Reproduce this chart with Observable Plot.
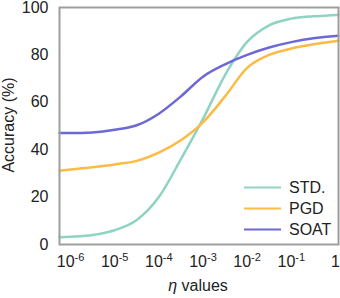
<!DOCTYPE html>
<html>
<head>
<meta charset="utf-8">
<script src="https://cdn.jsdelivr.net/npm/d3@7"></script>
<script src="https://cdn.jsdelivr.net/npm/@observablehq/plot@0.6"></script>
<style>
  html, body { margin: 0; padding: 0; background: #fff; }
  #chart { width: 340px; height: 298px; }
</style>
</head>
<body>
<div id="chart"></div>
<script>
// η grid as powers of ten
const etaExponents = [-6.25, -6, -5.5, -5, -4.5, -4, -3.5, -3, -2.5, -2, -1.5, -1, -0.5, 0, 0.07];
const stdAcc  = [3.1, 3.3, 4.0, 6.0, 10.3, 20.0, 36.0, 53.0, 71.5, 85.5, 92.5, 95.3, 96.3, 96.8, 96.9];
const pgdAcc  = [31.1, 31.6, 32.6, 33.8, 35.3, 38.8, 44.0, 51.5, 62.5, 74.5, 80.0, 82.7, 84.5, 85.8, 86.0];
const soatAcc = [47.0, 47.0, 47.3, 48.4, 50.3, 55.2, 62.5, 70.8, 76.0, 80.0, 83.1, 85.4, 87.0, 88.0, 88.1];

const seriesNames = ["STD.", "PGD", "SOAT"];
const seriesColors = ["#8fd4c3", "#fbbb45", "#6d68d4"];
const seriesValues = [stdAcc, pgdAcc, soatAcc];

const xTickExponents = [-6, -5, -4, -3, -2, -1, 0];
const yTicks = [0, 20, 40, 60, 80, 100];

const rows = [];
seriesNames.forEach((name, s) => {
  etaExponents.forEach((e, i) => rows.push({series: name, eta: 10 ** e, acc: seriesValues[s][i]}));
});

const font = "'Liberation Sans', Arial, sans-serif";

const chart = Plot.plot({
  width: 340,
  height: 298,
  marginLeft: 59,
  marginRight: 2,
  marginTop: 7,
  marginBottom: 54,
  style: {fontFamily: font, fontSize: "16px", color: "#222", background: "#fff", overflow: "visible"},
  x: {type: "log", domain: [10 ** -6.25, 10 ** 0.07]},
  y: {domain: [0, 100]},
  color: {domain: seriesNames, range: seriesColors},
  marks: [
    Plot.axisY({ticks: yTicks, tickSize: 0, tickPadding: 11, label: null}),
    Plot.axisX({
      ticks: xTickExponents.map(e => 10 ** e),
      tickSize: 0,
      tickPadding: 11,
      label: null,
      tickFormat: d => {
        const e = Math.round(Math.log10(d));
        return e === 0 ? "1" : "10^" + e;
      }
    }),
    Plot.line(rows, {x: "eta", y: "acc", z: "series", stroke: "series", strokeWidth: 2.5, curve: "monotone-x"}),
    Plot.frame({stroke: "#9e9e9e", strokeWidth: 2})
  ]
});

const svg = d3.select(chart);
// superscript exponents on x tick labels
svg.selectAll('g[aria-label="x-axis tick label"] text').each(function() {
  const t = d3.select(this);
  const s = t.text();
  const m = s.match(/^10\^(-?\d+)$/);
  if (m) {
    t.text("");
    t.append("tspan").text("10");
    t.append("tspan").attr("dy", "-6").attr("font-size", "11px").text(m[1]);
  }
});

// axis titles
svg.append("text")
  .attr("transform", "translate(14,125) rotate(-90)")
  .attr("text-anchor", "middle")
  .attr("font-family", font).attr("font-size", "16px").attr("fill", "#222")
  .text("Accuracy (%)");

const xl = svg.append("text")
  .attr("x", 198).attr("y", 291)
  .attr("text-anchor", "middle")
  .attr("font-family", font).attr("font-size", "16px").attr("fill", "#222");
xl.append("tspan").attr("font-style", "italic").text("η");
xl.append("tspan").text(" values");

// legend
const lg = svg.append("g").attr("transform", "translate(244,187.5)");
seriesNames.forEach((name, i) => {
  const g = lg.append("g").attr("transform", `translate(0,${i * 21})`);
  g.append("line").attr("x1", 0).attr("x2", 37).attr("y1", 0).attr("y2", 0)
    .attr("stroke", seriesColors[i]).attr("stroke-width", 2);
  g.append("text").attr("x", 45).attr("y", 0).attr("dy", "0.36em")
    .attr("text-anchor", "start")
    .attr("font-family", font).attr("font-size", "16px").attr("fill", "#222")
    .text(name);
});

document.getElementById("chart").appendChild(chart);
</script>
</body>
</html>
